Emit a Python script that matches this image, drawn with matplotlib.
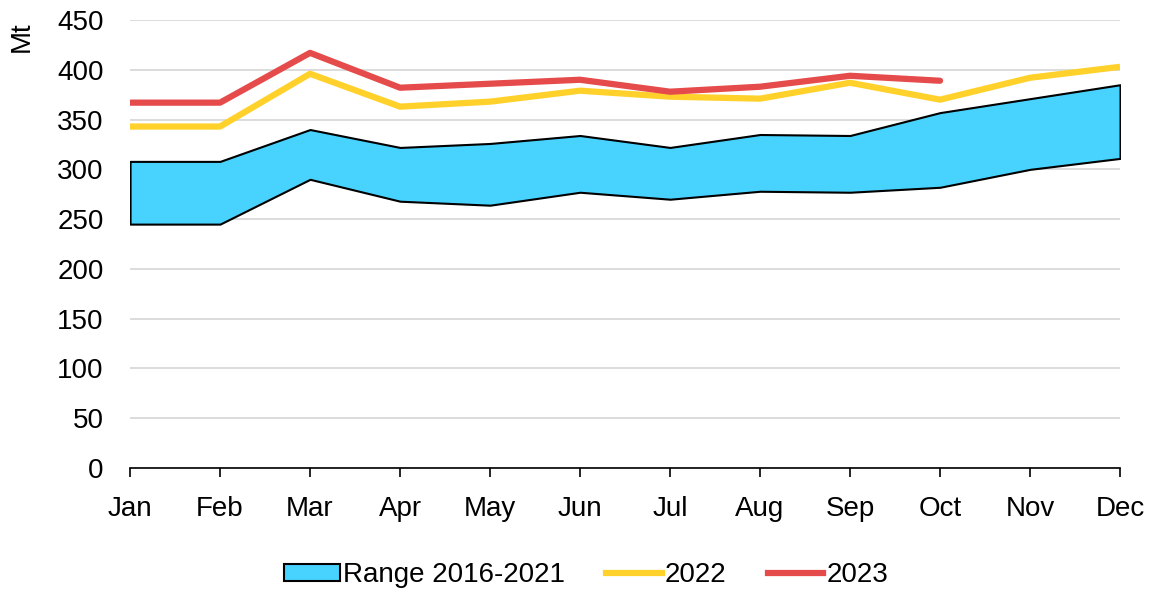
import numpy as np
import matplotlib.pyplot as plt
from matplotlib.patches import Patch
from matplotlib.lines import Line2D

months = ['Jan', 'Feb', 'Mar', 'Apr', 'May', 'Jun', 'Jul', 'Aug', 'Sep', 'Oct', 'Nov', 'Dec']
range_low = [245, 245, 290, 268, 264, 277, 270, 278, 277, 282, 300, 311]
range_high = [308, 308, 340, 322, 326, 334, 322, 335, 334, 357, 371, 385]
y2022 = [343, 343, 396, 363, 368, 379, 373, 371, 387, 370, 392, 403]
y2023 = [367, 367, 417, 382, 386, 390, 378, 383, 394, 389]

plt.rcParams['font.family'] = ['Liberation Sans', 'DejaVu Sans']

fig = plt.figure(figsize=(11.56, 5.94), dpi=100)
ax = fig.add_axes([0.1125, 0.2121, 0.8564, 0.7542])

x = np.arange(len(months))
ax.fill_between(x, range_low, range_high, facecolor='#48D3FF', edgecolor='black', lw=1.5, zorder=2)
ax.plot(np.arange(len(y2022)), y2022, color='#FFD12A', lw=4.5, zorder=3, solid_capstyle='butt')
ax.plot(np.arange(len(y2023)), y2023, color='#E54B4B', lw=4.5, zorder=4, solid_capstyle='round')

ax.set_xlim(0, 11)
ax.set_ylim(0, 450)
ax.set_xticks(x)
ax.set_xticklabels(months, fontsize=20)
ax.set_yticks(np.arange(0, 451, 50))
ax.tick_params(axis='y', length=0, labelsize=20, pad=19)
ax.tick_params(axis='x', length=6.5, width=1.2, pad=14)
for s in ['left', 'right', 'top']:
    ax.spines[s].set_visible(False)
ax.spines['bottom'].set_linewidth(1.2)
ax.yaxis.grid(True, color='#D9D9D9', lw=1.3, zorder=0)
ax.set_axisbelow(True)

fig.text(0.019, 0.939, 'Mt', rotation=90, fontsize=20, ha='center', va='center')

handles = [Patch(facecolor='#48D3FF', edgecolor='black', lw=1.5),
           Line2D([], [], color='#FFD12A', lw=4.5),
           Line2D([], [], color='#E54B4B', lw=4.5)]
fig.legend(handles, ['Range 2016-2021', '2022', '2023'], loc='center', bbox_to_anchor=(0.507, 0.032),
           ncol=3, frameon=False, fontsize=20, handlelength=2, handleheight=0.55,
           handletextpad=0.1, columnspacing=1.5, borderpad=0)

fig.savefig('out.png', dpi=100)
